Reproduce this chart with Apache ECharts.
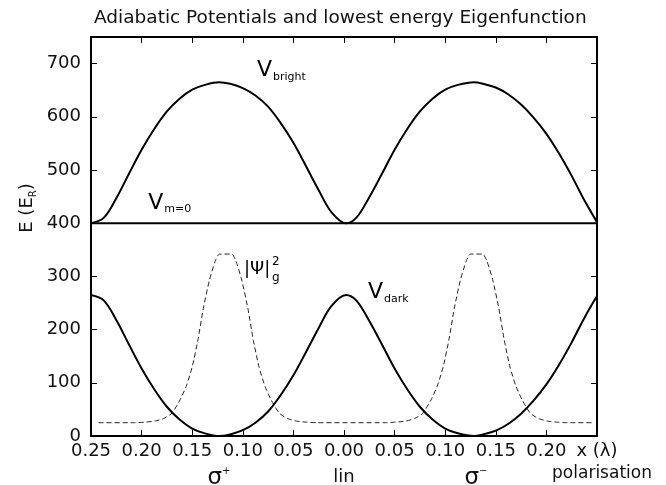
<!DOCTYPE html>
<html lang="en">
<head>
    <meta charset="UTF-8">
    <title>Adiabatic Potentials</title>
    <script type="text/javascript" src="https://cdn.jsdelivr.net/npm/echarts@6/dist/echarts.min.js"></script>
    <style>
        html, body { margin: 0; padding: 0; background: #fff; }
        #chart { width: 666px; height: 485px; }
    </style>
</head>
<body>
<div id="chart"></div>
<script type="text/javascript">
    // x in units of lambda, energies in E_R
    var xPot = [-0.25, -0.2375, -0.225, -0.2125, -0.2, -0.1875, -0.175, -0.1625, -0.15, -0.1375, -0.1235,
        -0.1125, -0.1, -0.0875, -0.075, -0.0625, -0.05, -0.0375, -0.025, -0.0125, 0.002,
        0.0125, 0.025, 0.0375, 0.05, 0.0625, 0.075, 0.0875, 0.1, 0.1125, 0.1285,
        0.1375, 0.15, 0.1625, 0.175, 0.1875, 0.2, 0.2125, 0.225, 0.2375, 0.25];
    var vBright = [400, 410, 447, 493, 538, 577, 610, 634, 651, 660, 665,
        662, 654, 640, 619, 588, 551, 507, 462, 421, 400,
        411, 449, 493, 538, 577, 610, 634, 651, 660, 665,
        662, 655, 642, 623, 598, 568, 531, 489, 443, 402];
    var vDark = [265, 255, 218, 172, 127, 88, 55, 31, 14, 5, 0,
        3, 11, 25, 46, 77, 114, 158, 203, 244, 265,
        254, 216, 172, 127, 88, 55, 31, 14, 5, 0,
        3, 10, 23, 42, 67, 97, 134, 176, 222, 263];
    var xM0 = [-0.25, 0.25];
    var vM0 = [400, 400];
    var xPsi = [-0.2425, -0.207, -0.197, -0.187, -0.178, -0.170, -0.162, -0.156, -0.150, -0.1444, -0.139, -0.133, -0.127,
        -0.123, -0.111, -0.107, -0.101, -0.095, -0.0896, -0.084, -0.078, -0.072, -0.064, -0.056, -0.047, -0.037, -0.027,
        0.041, 0.051, 0.061, 0.070, 0.078, 0.086, 0.092, 0.098, 0.1036, 0.109, 0.115, 0.121,
        0.125, 0.137, 0.141, 0.147, 0.153, 0.1584, 0.164, 0.170, 0.176, 0.184, 0.192, 0.201, 0.211, 0.221, 0.2475];
    var vPsi = [25, 25, 26, 28, 33, 43, 68, 93, 130, 180, 240, 293, 330,
        342, 342, 330, 293, 240, 180, 130, 93, 68, 43, 33, 28, 26, 25,
        25, 26, 28, 33, 43, 68, 93, 130, 180, 240, 293, 330,
        342, 342, 330, 293, 240, 180, 130, 93, 68, 43, 33, 28, 26, 25, 25];
    var xTickLabels = ['0.25', '0.20', '0.15', '0.10', '0.05', '0.00', '0.05', '0.10', '0.15', '0.20', 'x (\u03bb)'];

    // curve labels: anchor in data coords
    var labelX = [-0.0865, -0.194, 0.0232, -0.0993, -0.0716, -0.0716];
    var labelY = [687, 438, 270, 314, 328, 297];
    var labelText = ['{v|V}{s|bright}', '{v|V}{s|m=0}', '{v|V}{s|dark}', '{p|\u007c\u03a8\u007c}', '{t|2}', '{t|g}'];

    var FONT = 'DejaVu Sans';
    var INK = '#111';

    function pairs(xs, ys) {
        var out = [];
        for (var i = 0; i < xs.length; i++) out.push([xs[i], ys[i]]);
        return out;
    }

    var labelData = [];
    for (var i = 0; i < labelX.length; i++) {
        labelData.push({value: [labelX[i], labelY[i]], label: {formatter: labelText[i]}});
    }

    var axisLine = {show: true, onZero: false, lineStyle: {color: '#000', width: 2}};
    var axisTick = {show: true, inside: true, length: 6, lineStyle: {color: '#000', width: 1}};

    var myChart = echarts.init(document.getElementById('chart'));
    var option = {
        animation: false,
        backgroundColor: '#fff',
        title: {
            text: 'Adiabatic Potentials and lowest energy Eigenfunction',
            left: 89, top: 4,
            textStyle: {fontFamily: FONT, fontSize: 18.5, fontWeight: 'normal', color: INK}
        },
        grid: {left: 91, right: 69, top: 37, bottom: 49},
        xAxis: [{
            type: 'value', min: -0.25, max: 0.25, interval: 0.05, position: 'bottom',
            axisLine: axisLine, axisTick: axisTick, splitLine: {show: false},
            axisLabel: {
                color: INK, fontFamily: FONT, fontSize: 18, margin: 6,
                formatter: function (v) {
                    return xTickLabels[Math.round((v + 0.25) / 0.05)];
                }
            }
        }, {
            type: 'value', min: -0.25, max: 0.25, interval: 0.05, position: 'top',
            axisLine: axisLine, axisTick: axisTick, splitLine: {show: false},
            axisLabel: {show: false}
        }],
        yAxis: [{
            type: 'value', min: 0, max: 750, interval: 100, position: 'left',
            axisLine: axisLine, axisTick: axisTick, splitLine: {show: false},
            axisLabel: {color: INK, fontFamily: FONT, fontSize: 18, margin: 10, showMaxLabel: false}
        }, {
            type: 'value', min: 0, max: 750, interval: 100, position: 'right',
            axisLine: axisLine, axisTick: axisTick, splitLine: {show: false},
            axisLabel: {show: false}
        }],
        graphic: [
            {type: 'text', x: 27, y: 208, rotation: Math.PI / 2,
                style: {text: 'E (E{r|R})', fontFamily: FONT, fontSize: 18, fill: INK, align: 'center', verticalAlign: 'middle',
                    rich: {r: {fontFamily: FONT, fontSize: 10, fill: INK, verticalAlign: 'bottom', lineHeight: 22}}}},
            {type: 'text', x: 219, y: 478,
                style: {text: '{g|\u03c3}{u|+}', align: 'center', verticalAlign: 'middle', fill: INK,
                    rich: {g: {fontFamily: FONT, fontSize: 23, fill: INK, verticalAlign: 'middle', lineHeight: 24},
                        u: {fontFamily: FONT, fontSize: 10, fill: INK, verticalAlign: 'top', lineHeight: 24}}}},
            {type: 'text', x: 344, y: 477,
                style: {text: 'lin', fontFamily: FONT, fontSize: 18, fill: INK, align: 'center', verticalAlign: 'middle'}},
            {type: 'text', x: 476, y: 478,
                style: {text: '{g|\u03c3}{u|\u2212}', align: 'center', verticalAlign: 'middle', fill: INK,
                    rich: {g: {fontFamily: FONT, fontSize: 23, fill: INK, verticalAlign: 'middle', lineHeight: 24},
                        u: {fontFamily: FONT, fontSize: 10, fill: INK, verticalAlign: 'top', lineHeight: 24}}}},
            {type: 'text', x: 602, y: 474,
                style: {text: 'polarisation', fontFamily: FONT, fontSize: 17, fill: INK, align: 'center', verticalAlign: 'middle'}}
        ],
        series: [
            {
                name: 'bright', type: 'line', data: pairs(xPot, vBright), smooth: 0.35,
                showSymbol: false, symbol: 'none', lineStyle: {color: '#000', width: 2}, z: 3
            },
            {
                name: 'dark', type: 'line', data: pairs(xPot, vDark), smooth: 0.35,
                showSymbol: false, symbol: 'none', lineStyle: {color: '#000', width: 2}, z: 3
            },
            {
                name: 'm0', type: 'line', data: pairs(xM0, vM0),
                showSymbol: false, symbol: 'none', lineStyle: {color: '#000', width: 2}, z: 3
            },
            {
                name: 'psi', type: 'line', data: pairs(xPsi, vPsi), smooth: 0.2,
                showSymbol: false, symbol: 'none', lineStyle: {color: '#222', width: 1, type: [5, 3]}, z: 2
            },
            {
                name: 'labels', type: 'scatter', data: labelData, symbolSize: 1, silent: true,
                itemStyle: {color: 'rgba(0,0,0,0)'}, clip: false, z: 5,
                label: {
                    show: true, position: 'right', distance: 0, color: '#000', opacity: 1,
                    rich: {
                        v: {fontFamily: FONT, fontSize: 22, color: '#000', verticalAlign: 'middle', lineHeight: 28},
                        s: {fontFamily: FONT, fontSize: 11, color: '#000', verticalAlign: 'bottom', lineHeight: 28, padding: [0, 0, 2, 1]},
                        p: {fontFamily: FONT, fontSize: 18, color: '#000'},
                        t: {fontFamily: FONT, fontSize: 12, color: '#000'}
                    }
                }
            }
        ]
    };
    myChart.setOption(option);
</script>
</body>
</html>
